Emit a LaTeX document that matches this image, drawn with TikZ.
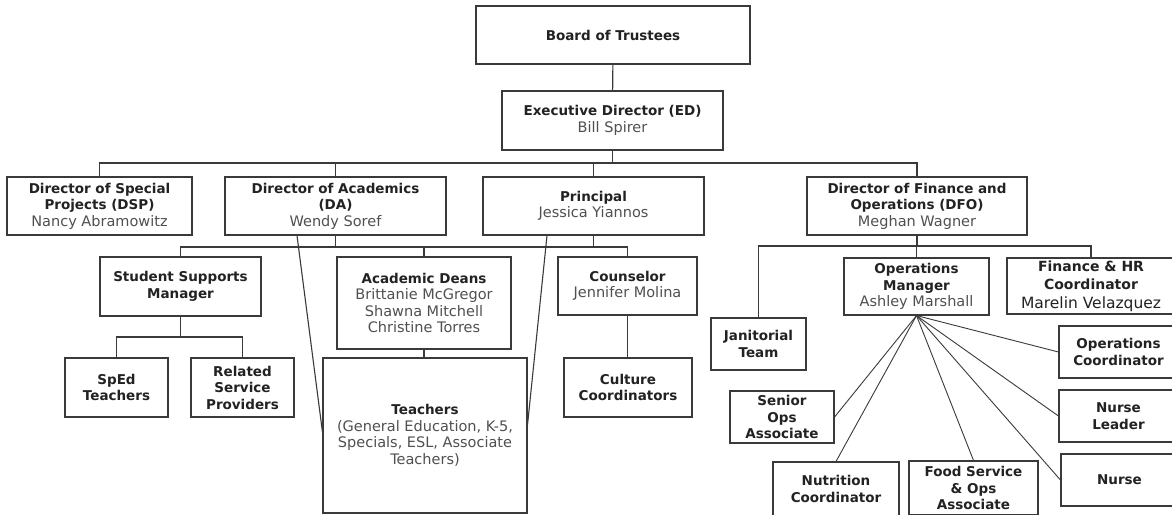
\documentclass[tikz,border=0pt]{standalone}
\usepackage{fontspec}
\setmainfont{DejaVu Sans}
\usetikzlibrary{positioning}

\definecolor{linegray}{HTML}{3A3A3A}
\definecolor{textdark}{HTML}{222222}
\definecolor{namegray}{HTML}{505050}
\newcommand{\staffname}[1]{{\fontsize{14.5}{16.5}\selectfont\mdseries\color{namegray}#1}}

\begin{document}
\begin{tikzpicture}[x=1pt,y=-1pt,
  role/.style n args={2}{draw=linegray, line width=1.1pt, align=center, inner sep=0pt,
    minimum width=#1, minimum height=#2, text=textdark,
    font=\fontsize{13.5}{16.5}\selectfont\bfseries},
  link/.style={draw=linegray, line width=1.1pt}]

\clip (0,0) rectangle (1172,514);
\fill[white] (0,0) rectangle (1172,514);

% ============================
% TOP LEVELS
% ============================

\node[role={274pt}{58pt}] (board) at (613,35) {Board of Trustees};
\node[role={221pt}{59pt}] (ed) at (612.5,120.5) {Executive Director (ED)\\\staffname{Bill Spirer}};

\node[role={185pt}{58pt}] (dsp) at (99.5,206) {Director of Special\\Projects (DSP)\\\staffname{Nancy Abramowitz}};
\node[role={221pt}{58pt}] (da) at (335.5,206) {Director of Academics\\(DA)\\\staffname{Wendy Soref}};
\node[role={221pt}{58pt}] (principal) at (593.5,206) {Principal\\\staffname{Jessica Yiannos}};
\node[role={220pt}{58pt}] (dfo) at (917,206) {Director of Finance and\\Operations (DFO)\\\staffname{Meghan Wagner}};

% bus levels
\coordinate (edbus) at (612.5,163);
\coordinate (acbus) at (335.5,247);
\coordinate (dfobus) at (917,246);

\draw[link] (board) -- (ed);
\draw[link] (ed) -- (edbus);
\draw[link] (dsp.north) |- (edbus) -| (dfo.north);
\draw[link] (da.north) -- (da.north |- edbus);
\draw[link] (principal.north) -- (principal.north |- edbus);

% ============================
% ACADEMICS SIDE
% ============================

\node[role={161pt}{59pt}] (ssm) at (180.5,286.5) {Student Supports\\Manager};
\node[role={174pt}{92pt}] (deans) at (424,303) {Academic Deans\\\staffname{Brittanie McGregor}\\\staffname{Shawna Mitchell}\\\staffname{Christine Torres}};
\node[role={139pt}{58pt}] (counselor) at (627.5,286) {Counselor\\\staffname{Jennifer Molina}};

\node[role={103pt}{59pt}] (sped) at (116.5,387.5) {SpEd\\Teachers};
\node[role={103pt}{59pt}] (related) at (242.5,387.5) {Related\\Service\\Providers};
\node[role={204pt}{155pt}] (teachers) at (425,435.5) {Teachers\\\staffname{(General Education, K-5,}\\\staffname{Specials, ESL, Associate}\\\staffname{Teachers)}};
\node[role={128pt}{59pt}] (culture) at (628,387.5) {Culture\\Coordinators};

\coordinate (ssmbus) at (180.5,337);

\draw[link] (da.south) -- (acbus);
\draw[link] (principal.south) -- (principal.south |- acbus);
\draw[link] (ssm.north) |- (acbus) -| (counselor.north);
\draw[link] (deans.north) -- (deans.north |- acbus);
\draw[link] (ssm) -- (ssmbus);
\draw[link] (sped.north) |- (ssmbus) -| (related.north);
\draw[link] (deans.south) -- (deans.south |- teachers.north);
\draw[link] (counselor.south) -- (counselor.south |- culture.north);

% slanted links down to teachers
\draw[link] ([xshift=-38.5pt]da.south) -- ([yshift=3.5pt]teachers.west);
\draw[link] ([xshift=-46.5pt]principal.south) -- ([yshift=11pt]teachers.east);

% ============================
% OPERATIONS SIDE
% ============================

\node[role={95pt}{52pt}] (janitorial) at (758.5,344) {Janitorial\\Team};
\node[role={145pt}{57pt}] (opsmgr) at (916.5,286.5) {Operations\\Manager\\\staffname{Ashley Marshall}};
\node[role={168pt}{56pt}, font=\fontsize{14}{18.5}\selectfont\bfseries] (finhr) at (1091,286)
  {Finance \& HR\\Coordinator\\{\fontsize{15.5}{18.5}\selectfont\mdseries Marelin Velazquez}};

\node[role={119pt}{52pt}] (opscoord) at (1118.5,352) {Operations\\Coordinator};
\node[role={119pt}{52pt}] (nurseleader) at (1118.5,416) {Nurse\\Leader};
\node[role={117pt}{52pt}] (nurse) at (1119.5,480) {Nurse};
\node[role={104pt}{52pt}] (senior) at (782,417) {Senior\\Ops\\Associate};
\node[role={126pt}{54pt}] (nutrition) at (836,489) {Nutrition\\Coordinator};
\node[role={129pt}{54pt}] (food) at (973.5,488) {Food Service\\\& Ops\\Associate};

\draw[link] (dfo) -- (dfobus);
\draw[link] (janitorial.north) |- (dfobus) -| (finhr.north);
\draw[link] (opsmgr.north) -- (opsmgr.north |- dfobus);

% fan out from the manager
\coordinate (hub) at (opsmgr.south);
\foreach \t/\a in {opscoord/west, nurseleader/west, nurse/west, senior/east, nutrition/north, food/north}
  \draw[link, line width=0.9pt] (hub) -- (\t.\a);

\end{tikzpicture}
\end{document}
